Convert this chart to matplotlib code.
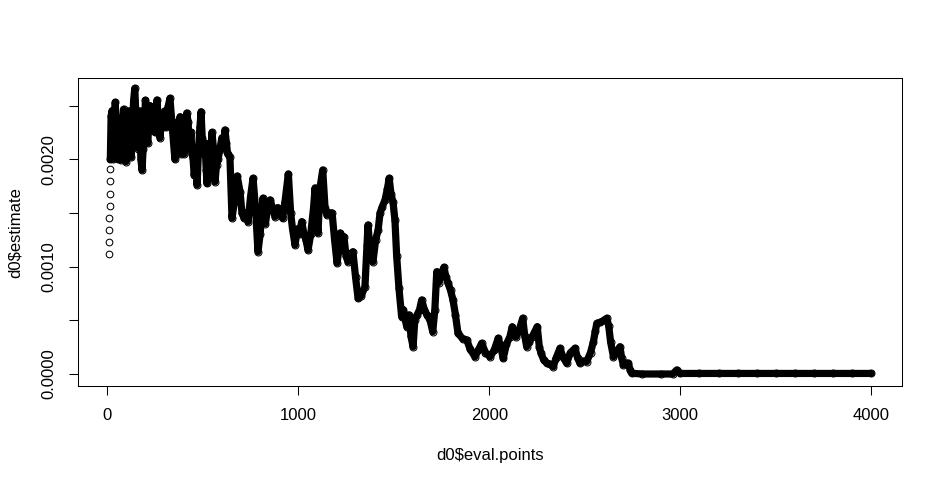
import numpy as np
import matplotlib.pyplot as plt

plt.rcParams['font.family'] = ['Liberation Sans', 'DejaVu Sans']

# first few evaluation points (isolated circles)
ramp_x = [8, 9, 10, 11, 12, 13, 14, 15]
ramp_y = [1.118e-3, 1.230e-3, 1.341e-3, 1.453e-3, 1.565e-3, 1.677e-3, 1.798e-3, 1.907e-3]

# main density trace (x, estimate*1000)
main_x = [16, 20, 25, 30, 35, 42, 48, 55, 62, 70, 78, 85, 92, 98, 105, 112, 118, 125, 132,
          138, 144, 150, 156, 163, 170, 176, 182, 188, 195, 200, 205, 212, 218, 224, 230,
          240, 250, 260, 268, 276, 284, 292, 300, 310, 320, 328, 340, 354, 360, 368, 375,
          381, 388, 395, 402, 410, 416, 423, 430, 438, 444, 449, 455, 462, 470, 478, 485,
          491, 497, 505, 512, 518, 522, 528, 535, 542, 548, 556, 564, 572, 580, 590, 600,
          608, 616, 624, 630, 642, 653, 665, 680, 695, 705, 716, 728, 737, 750, 763, 776,
          789, 800, 815, 828, 840, 852, 865, 878, 892, 904, 918, 930, 948, 960, 970, 983,
          995, 1005, 1018, 1030, 1040, 1051, 1065, 1080, 1088, 1096, 1103, 1115, 1128, 1140,
          1150, 1165, 1177, 1190, 1203, 1212, 1219, 1230, 1239, 1250, 1260, 1272, 1286, 1300,
          1313, 1330, 1349, 1360, 1365, 1378, 1391, 1405, 1418, 1428, 1440, 1454, 1466, 1476,
          1485, 1496, 1506, 1515, 1527, 1541, 1550, 1558, 1568, 1580, 1590, 1601, 1610, 1622,
          1635, 1646, 1660, 1674, 1690, 1704, 1715, 1725, 1735, 1742, 1752, 1763, 1773, 1784,
          1797, 1810, 1823, 1836, 1860, 1882, 1900, 1925, 1942, 1960, 1980, 2004, 2025, 2047,
          2060, 2073, 2090, 2108, 2120, 2140, 2155, 2175, 2186, 2196, 2210, 2224, 2240, 2251,
          2262, 2271, 2285, 2301, 2318, 2335, 2350, 2370, 2385, 2405, 2425, 2449, 2462, 2475,
          2490, 2510, 2530, 2545, 2555, 2563, 2580, 2600, 2615, 2625, 2635, 2650, 2665, 2684,
          2693, 2702, 2715, 2728, 2737, 2745, 2800, 2900, 2960, 2981, 3000, 3100, 3200, 3300,
          3400, 3500, 3600, 3700, 3800, 3900, 4000]
main_y = [2.000, 2.400, 2.453, 2.000, 2.300, 2.531, 2.100, 2.000, 2.300, 1.993, 2.350, 2.466,
          2.050, 1.978, 2.300, 2.450, 2.200, 2.020, 2.300, 2.550, 2.661, 2.400, 2.200, 2.100,
          2.450, 2.000, 1.900, 2.100, 2.350, 2.550, 2.300, 2.150, 2.350, 2.500, 2.300, 2.450,
          2.250, 2.552, 2.350, 2.200, 2.400, 2.300, 2.450, 2.300, 2.500, 2.568, 2.300, 2.000,
          2.150, 2.350, 2.200, 2.397, 2.050, 2.200, 2.050, 2.300, 2.431, 2.350, 2.100, 2.250,
          2.050, 2.012, 1.850, 1.950, 1.761, 2.100, 2.300, 2.443, 2.200, 2.050, 2.150, 1.900,
          1.775, 1.950, 2.100, 2.050, 2.250, 2.100, 1.791, 1.950, 2.000, 2.100, 2.200, 2.100,
          2.273, 2.150, 2.050, 2.024, 1.453, 1.600, 1.844, 1.700, 1.500, 1.453, 1.500, 1.419,
          1.650, 1.823, 1.550, 1.139, 1.300, 1.637, 1.400, 1.550, 1.621, 1.550, 1.465, 1.550,
          1.500, 1.450, 1.600, 1.863, 1.500, 1.350, 1.202, 1.350, 1.300, 1.419, 1.300, 1.250,
          1.155, 1.300, 1.550, 1.733, 1.450, 1.313, 1.750, 1.900, 1.550, 1.481, 1.500, 1.500,
          1.250, 1.034, 1.150, 1.313, 1.280, 1.279, 1.100, 1.046, 1.120, 1.139, 0.900, 0.705,
          0.730, 0.813, 1.200, 1.388, 1.100, 1.046, 1.250, 1.341, 1.500, 1.560, 1.621, 1.720,
          1.823, 1.680, 1.600, 1.434, 1.100, 0.800, 0.534, 0.600, 0.520, 0.441, 0.550, 0.350,
          0.254, 0.500, 0.550, 0.600, 0.689, 0.600, 0.550, 0.500, 0.394, 0.600, 0.953, 0.850,
          0.900, 0.950, 0.994, 0.900, 0.848, 0.780, 0.689, 0.550, 0.379, 0.330, 0.317, 0.230,
          0.161, 0.220, 0.286, 0.200, 0.161, 0.220, 0.333, 0.250, 0.146, 0.280, 0.347, 0.440,
          0.347, 0.400, 0.519, 0.350, 0.254, 0.300, 0.347, 0.400, 0.441, 0.250, 0.193, 0.130,
          0.100, 0.090, 0.068, 0.150, 0.239, 0.160, 0.100, 0.200, 0.239, 0.150, 0.100, 0.120,
          0.115, 0.200, 0.301, 0.400, 0.472, 0.480, 0.500, 0.519, 0.450, 0.300, 0.161, 0.200,
          0.254, 0.150, 0.084, 0.100, 0.100, 0.040, 0.007, 0.000, 0.000, 0.000, 0.037, 0.005,
          0.005, 0.005, 0.005, 0.005, 0.005, 0.005, 0.005, 0.005, 0.005, 0.005]

x_ticks = [0, 1000, 2000, 3000, 4000]
y_ticks = [0.0, 0.0005, 0.0010, 0.0015, 0.0020, 0.0025]
y_labels = ['0.0000', '', '0.0010', '', '0.0020', '']

mx = np.array(main_x)
my = np.array(main_y) / 1000.0

fig = plt.figure(figsize=(9.42, 4.84), dpi=100)
ax = fig.add_axes([0.0831, 0.2025, 0.8741, 0.6357])

# dense points overlap into a solid band
ax.plot(mx, my, color='black', lw=5.2, solid_joinstyle='round', solid_capstyle='round')
ax.plot(mx, my, 'o', mfc='none', mec='black', ms=5.0, mew=0.75)
ax.plot(ramp_x, ramp_y, 'o', mfc='none', mec='black', ms=4.8, mew=0.75)

ax.set_xlim(-151.8, 4159)
ax.set_ylim(-1.118e-4, 2.7545e-3)
ax.set_xticks(x_ticks)
ax.set_xticklabels([str(v) for v in x_ticks])
ax.set_yticks(y_ticks)
ax.set_yticklabels(y_labels, rotation=90, va='center')
ax.tick_params(direction='out', length=6.5, width=0.75, labelsize=12, pad=9)
for s in ax.spines.values():
    s.set_linewidth(0.75)

ax.set_xlabel('d0$eval.points', fontsize=12, labelpad=18)
ax.set_ylabel('d0$estimate', fontsize=12, labelpad=14)

fig.savefig('out.png', dpi=100)
